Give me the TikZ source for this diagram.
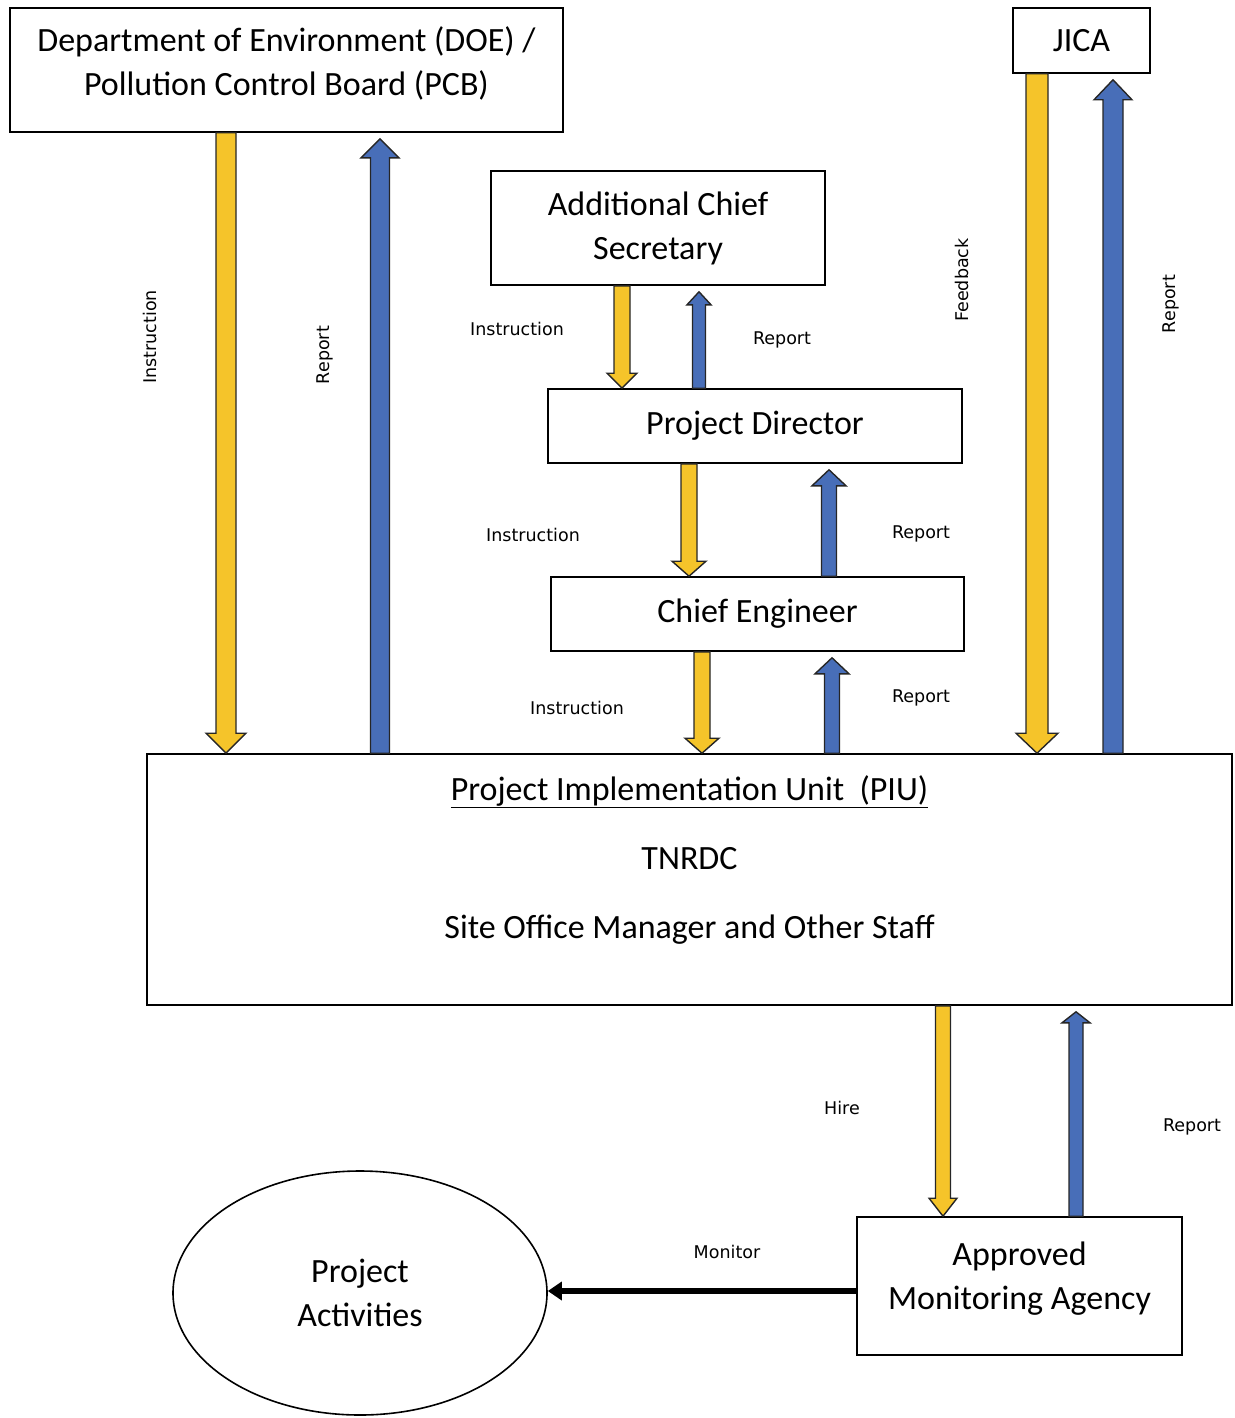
\documentclass[tikz,border=0pt]{standalone}
\usepackage{fontspec}
\setmainfont{Carlito}
\newfontfamily\labelfont{DejaVu Sans}
\usetikzlibrary{positioning}
\usetikzlibrary{shapes.geometric}
\usetikzlibrary{arrows.meta}
\usetikzlibrary{calc}

\definecolor{instrColor}{RGB}{245,196,42}
\definecolor{reportColor}{RGB}{72,110,184}

\begin{document}
\begin{tikzpicture}
[x=1pt,y=-1pt,
  boxDecorate/.style={draw,line width=1.6pt,align=center,inner sep=0pt,
    font=\fontsize{34}{44}\selectfont},
  raiseText/.style={text depth=18pt},
  raiseMore/.style={text depth=21pt},
  keepText/.style={},
  labelDecorate/.style={inner sep=1pt,font=\labelfont\fontsize{17.5}{20}\selectfont},
  arrowDecorate/.style={draw=black!85,line width=1.4pt,line join=miter},
  monitorDecorate/.style={line width=6.5pt,-{Triangle[length=14pt,width=18pt]}}]
\useasboundingbox (0,0) rectangle (1234,1418);
%% boxes
\foreach \nodename/\x/\y/\w/\h/\opt/\txt in {
  DOE/286.5/70/553pt/124pt/raiseText/{Department of Environment (DOE) /\\Pollution Control Board (PCB)},
  JICA/1081.5/40.5/137pt/65pt/keepText/JICA,
  ACS/658/228/334pt/114pt/keepText/{Additional Chief\\Secretary},
  PD/755/426/414pt/74pt/keepText/Project Director,
  CE/757.5/614/413pt/74pt/keepText/Chief Engineer,
  PIU/689.5/879.5/1085pt/251pt/keepText/{},
  AMA/1019.5/1286/325pt/138pt/raiseMore/{Approved\\Monitoring Agency}}
{
  \node (\nodename) at (\x,\y) [boxDecorate,minimum width=\w,minimum height=\h,\opt] {\txt};
}
\node (PIUtext) [below=22pt of PIU.north,align=center,inner sep=0pt,
  font=\fontsize{34}{69}\selectfont]
  {\underline{Project Implementation Unit~ (PIU)}\\TNRDC\\Site Office Manager and Other Staff};
\node (PA) at (360,1293) [ellipse,boxDecorate,minimum width=374pt,minimum height=244pt]
  {Project\\Activities};
%% small labels
\foreach \lname/\x/\y/\rot/\txt in {
  doeInstr/150/337/90/Instruction, doeReport/325/355/90/Report,
  acsInstr/517/329/0/Instruction, acsReport/782/340/0/Report,
  jicaFeed/962/280/90/Feedback, jicaReport/1171/304/90/Report,
  pdInstr/533/535/0/Instruction, pdReport/921/534/0/Report,
  ceInstr/577/708/0/Instruction, ceReport/921/698/0/Report,
  piuHire/842/1108/0/Hire, amaReport/1192/1127/0/Report,
  amaMonitor/727/1252/0/Monitor}
{
  \node (\lname) at (\x,\y) [labelDecorate,rotate=\rot] {\txt};
}
%% block arrows
\foreach \from/\fa/\to/\ta/\ax/\d/\col/\sw/\hw/\hl in {
  DOE/south/PIU/north/226pt/1/instrColor/10pt/20pt/20pt,
  PIU/north/DOE/south/380pt/-1/reportColor/9.5pt/19pt/19pt,
  JICA/south/PIU/north/1037pt/1/instrColor/11pt/21pt/20pt,
  PIU/north/JICA/south/1113pt/-1/reportColor/10pt/19pt/20pt,
  ACS/south/PD/north/622pt/1/instrColor/8pt/15pt/15pt,
  PD/north/ACS/south/699pt/-1/reportColor/6.5pt/12pt/13pt,
  PD/south/CE/north/689pt/1/instrColor/8pt/17pt/15pt,
  CE/north/PD/south/829pt/-1/reportColor/7.5pt/17pt/16pt,
  CE/south/PIU/north/702pt/1/instrColor/8pt/17pt/15pt,
  PIU/north/CE/south/832pt/-1/reportColor/7.5pt/17pt/16pt,
  PIU/south/AMA/north/943pt/1/instrColor/7.5pt/14pt/18pt,
  AMA/north/PIU/south/1076pt/-1/reportColor/7pt/14pt/11pt}
{
  \draw[arrowDecorate,fill=\col] let \p1=(\from.\fa), \p2=(\to.\ta),
    \p3=(\ax,{\y2+(\d-1)*3pt}), \p4=(\ax,{\y2+(\d-1)*3pt+(\d)*\hl}) in
    ({\x3-\sw},\y1) -- ({\x3-\sw},\y4) -- ({\x3-\hw},\y4) -- (\p3)
    -- ({\x3+\hw},\y4) -- ({\x3+\sw},\y4) -- ({\x3+\sw},\y1) -- cycle;
}
\draw[monitorDecorate] (AMA.west |- 0,1291) -- (PA.east |- 0,1291);
\end{tikzpicture}
\end{document}
